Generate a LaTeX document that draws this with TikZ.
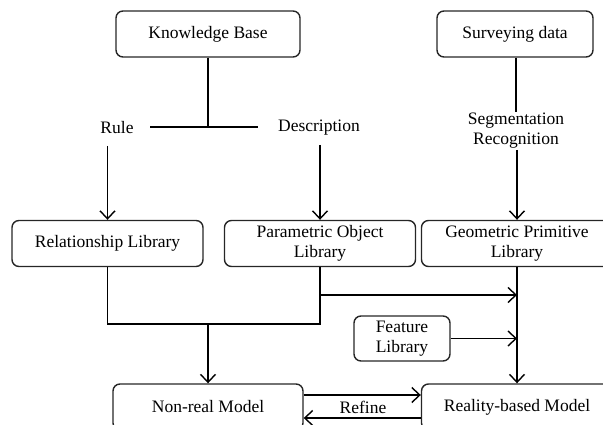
\documentclass[tikz,border=0pt]{standalone}
\usepackage{fontspec}
\setmainfont{Liberation Serif}
\usetikzlibrary{arrows.meta}
\tikzset{
  box/.style={draw=black!85, line width=1.4pt, rounded corners=7pt, minimum width=191pt, minimum height=46pt, inner sep=2pt, align=center, font=\fontsize{17.5}{20}\selectfont},
  lbl/.style={inner sep=1pt, align=center, font=\fontsize{17.5}{20}\selectfont},
  conn/.style={line width=1.5pt, black},
  arr/.style={conn, -{Straight Barb[length=8pt,width=15pt,line width=1.4pt]}},
}
\begin{document}
\begin{tikzpicture}[x=1pt,y=-1pt]
\useasboundingbox (0,0) rectangle (603,425);
\clip (0,0) rectangle (603,425);
% boxes
\node[box, minimum width=184pt] (kb) at (208,34) {Knowledge Base};
\node[box, minimum width=156pt] (sd) at (515,34) {Surveying data};
\node[box] (rel) at (107.5,243.5) {Relationship Library};
\node[box] (par) at (320,243.5) {Parametric Object\\Library};
\node[box] (geo) at (517,243.5) {Geometric Primitive\\Library};
\node[box, minimum width=96pt, minimum height=45pt] (feat) at (402,338.5) {Feature\\Library};
\node[box, minimum width=190pt] (nr) at (208,407) {Non-real Model};
\node[box] (rb) at (517,407) {Reality-based Model};
% labels
\node[lbl] (rule) at (117,128) {Rule};
\node[lbl] (desc) at (319,128) {Description};
\node[lbl] (seg) at (516,131) {Segmentation\\Recognition};
\node[lbl] (refine) at (363,407) {Refine};
% junction coordinates
\coordinate (tj) at (208,127);
\coordinate (tl) at (150,127);
\coordinate (tr) at (258,127);
\coordinate (mj) at (208,324);
\coordinate (ml) at (107.5,324);
\coordinate (mr) at (320,324);
\coordinate (gp) at (517,295);
\coordinate (gf) at (517,338.5);
% top part
\draw[conn] (kb.south) -- (tj);
\draw[conn] (tl) -- (tr);
\draw[arr] (rel.north |- 0,146) -- (rel.north);
\draw[arr] (par.north |- 0,145) -- (par.north);
\draw[conn] (sd.south -| seg.north) -- (seg.north);
\draw[arr] (seg.south -| geo.north) -- (geo.north);
% lower part
\draw[conn] (rel.south) -- (ml) -- (mr) -- (par.south);
\draw[arr] (mj) -- (nr.north);
\draw[arr] (par.south |- gp) -- (gp);
\draw[arr] (geo.south) -- (rb.north);
\draw[arr] (feat.east) -- (gf);
% refine
\draw[arr] ([yshift=12pt]nr.east) -- ([yshift=12pt]rb.west);
\draw[arr] ([yshift=-11pt]rb.west) -- ([yshift=-11pt]nr.east);
\end{tikzpicture}
\end{document}
